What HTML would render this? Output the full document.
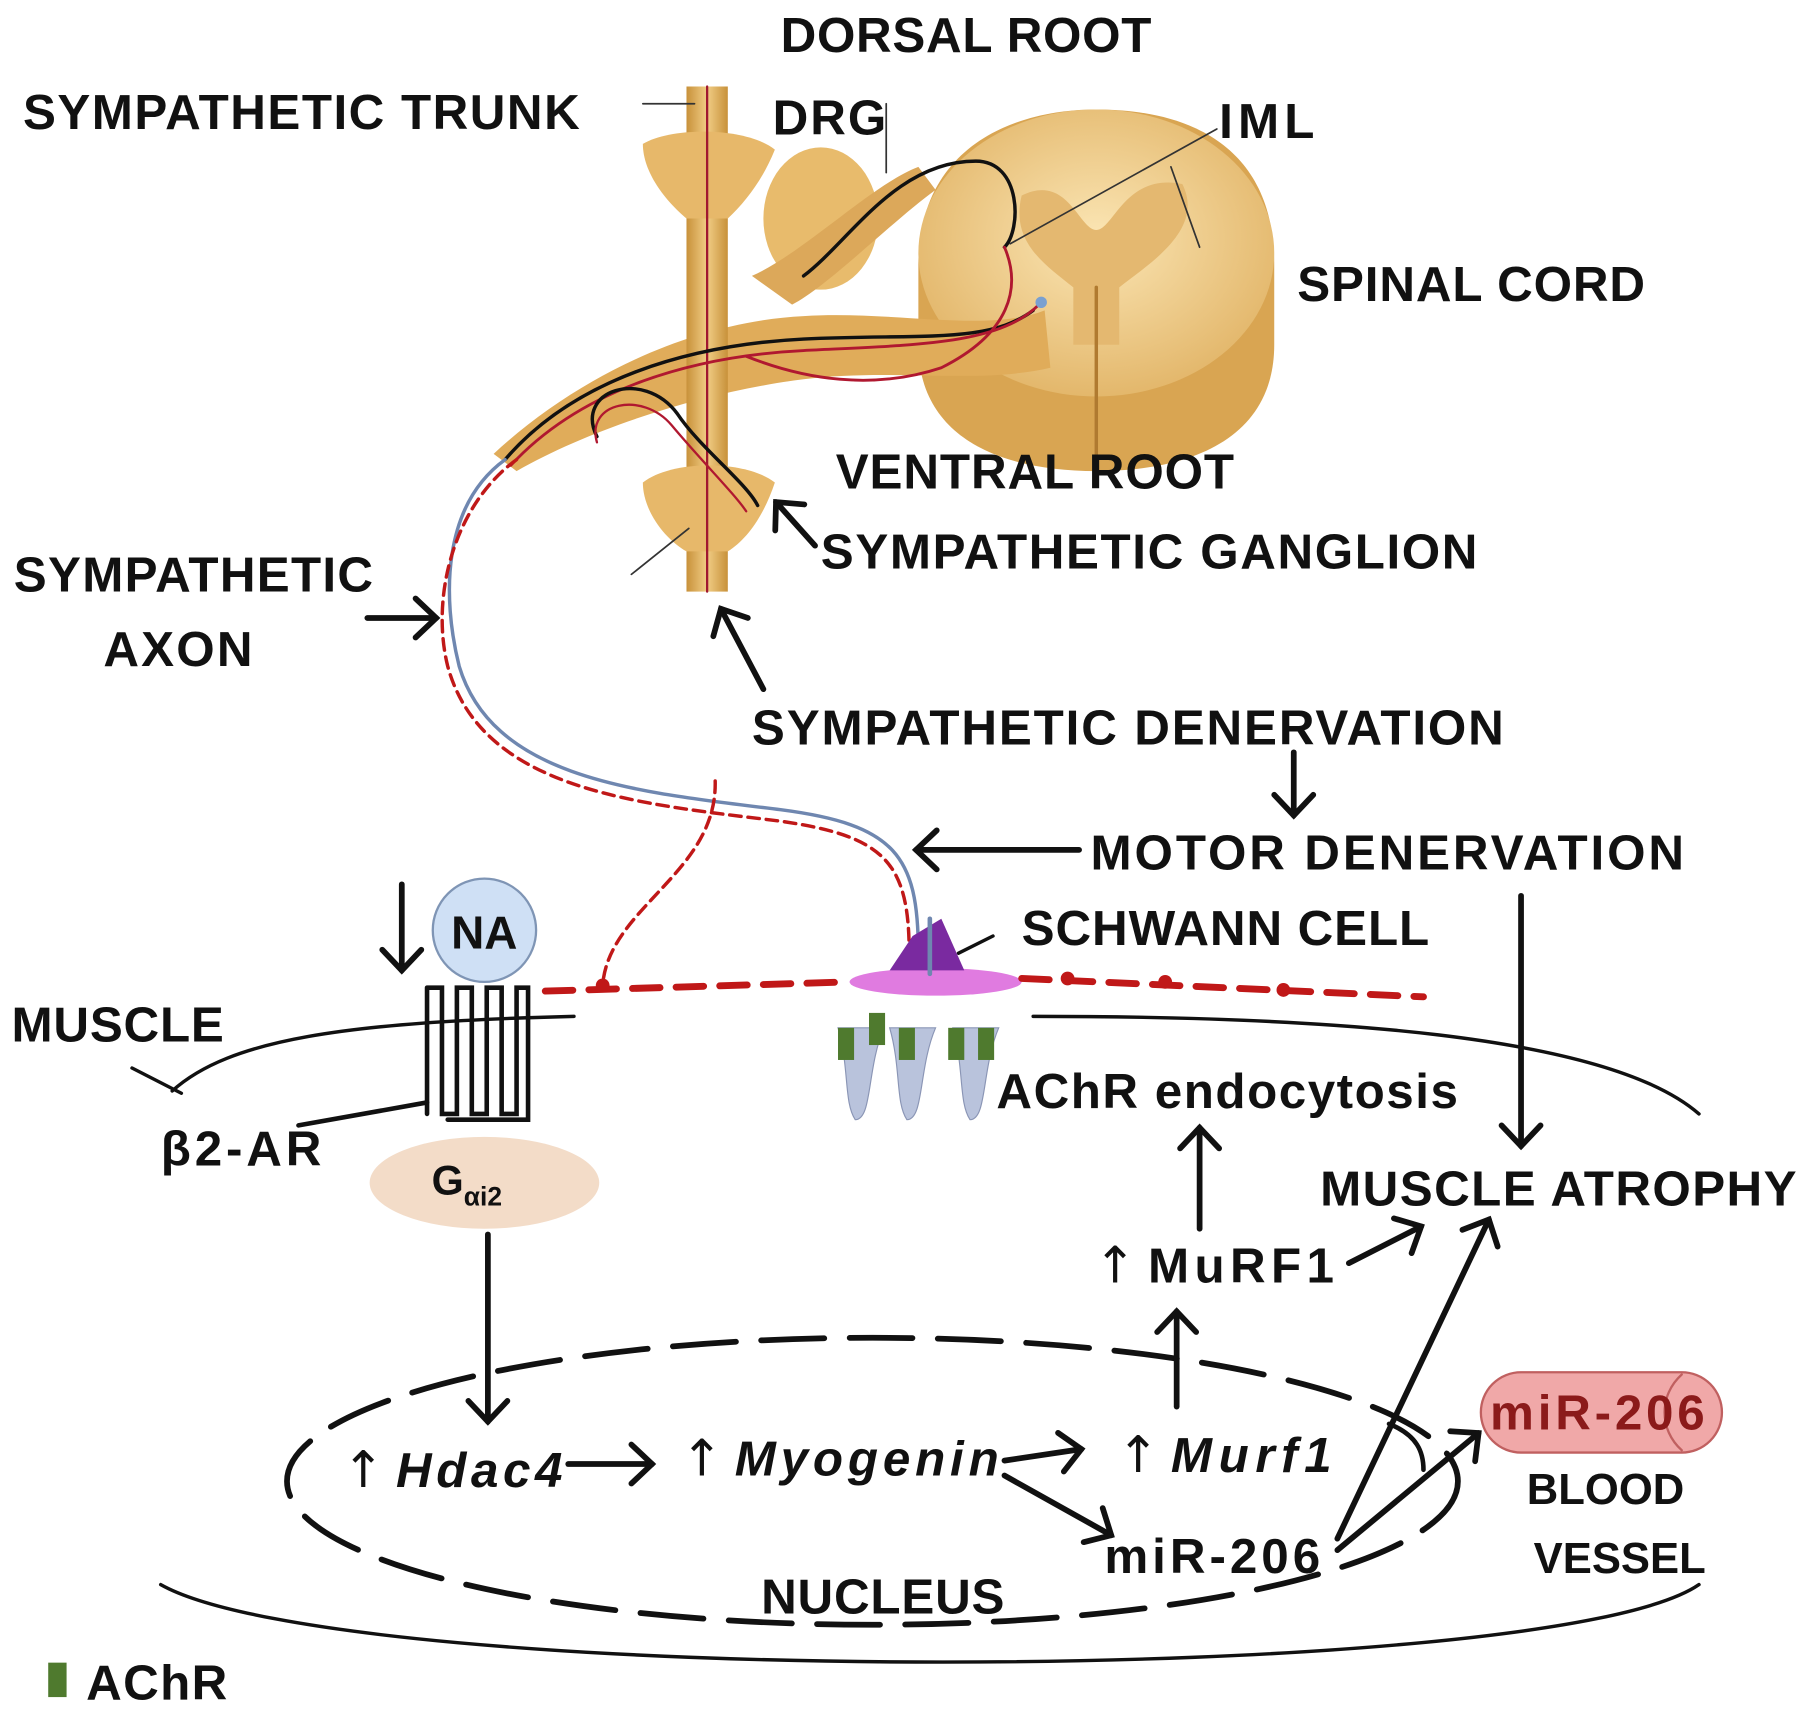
<!DOCTYPE html>
<html><head><meta charset="utf-8"><style>
html,body{margin:0;padding:0;background:#fff;}
svg{display:block;}
text{font-family:"Liberation Sans",sans-serif;font-weight:bold;fill:#111;}
text.up{font-family:"DejaVu Sans",sans-serif;font-weight:normal;font-style:normal;}
</style></head><body>
<svg width="1800" height="1717" viewBox="0 0 1568 1495" xmlns="http://www.w3.org/2000/svg">
<defs>
<marker id="a" viewBox="-24 -24 30 48" refX="0" refY="0" markerWidth="30" markerHeight="48" orient="auto" markerUnits="userSpaceOnUse">
<path d="M-18,-17 L0,0 L-18,17" fill="none" stroke="#111" stroke-width="5" stroke-linecap="round" stroke-linejoin="miter"/>
</marker>
<linearGradient id="g" x1="0" x2="1"><stop offset="0" stop-color="#c8913a"/><stop offset=".5" stop-color="#f1cd85"/><stop offset="1" stop-color="#c8913a"/></linearGradient>
<radialGradient id="sc" cx=".5" cy=".45" r=".6"><stop offset="0" stop-color="#fbe6b5"/><stop offset="1" stop-color="#e1b365"/></radialGradient>
</defs>
<g stroke-linecap="round">
<path d="M800,230 C800,130 880,95 955,95 C1040,95 1110,130 1110,230 L1110,300 C1110,380 1040,410 955,410 C870,410 800,380 800,300 Z" fill="#d9a552"/>
<ellipse cx="955" cy="220" rx="155" ry="125" fill="url(#sc)"/>
<path d="M890,170 C930,150 940,200 955,200 C970,200 980,150 1030,160 C1050,200 1000,230 975,250 L975,300 L935,300 L935,250 C910,230 880,210 890,170Z" fill="#e4b870"/>
<line x1="955" y1="250" x2="955" y2="400" stroke="#b07a30" stroke-width="3"/>
<path d="M430,395 C500,330 600,280 700,275 C780,270 860,290 910,270 L915,320 C850,335 780,320 700,330 C620,340 520,370 450,410Z" fill="#e0ac5a"/>
<ellipse cx="715" cy="190" rx="50" ry="62" fill="#e8bb6c"/>
<path d="M655,240 C700,220 760,160 800,145 L815,165 C780,190 720,250 690,265Z" fill="#dca85a"/>
<rect x="598" y="75" width="36" height="440" fill="url(#g)"/>
<path d="M560,125 C585,110 650,110 675,130 C665,155 650,175 634,190 L598,190 C580,175 560,150 560,125Z" fill="#e7b86a"/>
<path d="M560,420 C585,400 650,400 675,420 C665,450 650,470 634,480 L598,480 C580,470 560,445 560,420Z" fill="#e7b86a"/>
<line x1="616" y1="75" x2="616" y2="515" stroke="#a01830" stroke-width="2"/>
<path d="M440,400 C500,330 600,300 700,295 C800,290 860,300 900,270" fill="none" stroke="#111" stroke-width="3"/>
<path d="M445,405 C505,340 600,310 700,305 C800,300 870,300 905,265" fill="none" stroke="#b01830" stroke-width="2.5"/>
<path d="M700,240 C740,210 780,140 850,140 C890,140 890,200 875,215" fill="none" stroke="#111" stroke-width="3"/>
<path d="M875,215 C890,250 880,290 820,320 C760,340 700,330 650,310" fill="none" stroke="#b01830" stroke-width="2.5"/>
<path d="M520,380 C500,340 560,320 590,360 C610,390 650,420 660,440" fill="none" stroke="#111" stroke-width="3"/>
<path d="M520,385 C510,350 560,340 585,370 C610,400 640,430 650,445" fill="none" stroke="#b01830" stroke-width="2"/>
<circle cx="907" cy="263" r="5" fill="#7aa0d0"/>
<line x1="560" y1="90" x2="605" y2="90" stroke="#333" stroke-width="1.5"/>
<line x1="772" y1="90" x2="772" y2="150" stroke="#333" stroke-width="1.5"/>
<line x1="1060" y1="112" x2="880" y2="212" stroke="#333" stroke-width="1.5"/>
<line x1="1020" y1="145" x2="1045" y2="215" stroke="#333" stroke-width="1.5"/>
<line x1="550" y1="500" x2="600" y2="460" stroke="#333" stroke-width="1.5"/>
<path d="M440,400 C385,440 385,520 400,580 C430,680 560,690 680,705 C780,718 800,745 800,830" fill="none" stroke="#6f87b0" stroke-width="3"/>
<path d="M450,400 C395,440 375,520 390,580 C420,690 560,700 680,715 C770,728 792,750 792,830" fill="none" stroke="#c01818" stroke-width="3" stroke-dasharray="10,6"/>
<path d="M623,680 C625,760 530,790 525,858" fill="none" stroke="#c01818" stroke-width="3" stroke-dasharray="10,6"/>
<ellipse cx="815" cy="855" rx="75" ry="12" fill="#e07be0"/>
<path d="M775,845 L795,815 L820,800 L840,845Z" fill="#7a2aa0"/>
<line x1="810" y1="800" x2="810" y2="848" stroke="#6f87b0" stroke-width="4"/>
<line x1="865" y1="815" x2="835" y2="830" stroke="#111" stroke-width="3"/>
<path d="M475,863 L740,855 M890,852 L1240,868" fill="none" stroke="#c01818" stroke-width="6" stroke-dasharray="24,14"/>
<g fill="#c01818"><circle cx="525" cy="858" r="6"/><circle cx="930" cy="852" r="6"/><circle cx="1015" cy="855" r="6"/><circle cx="1118" cy="862" r="6"/></g>
<path d="M150,950 C200,905 300,890 500,885 M900,885 C1150,885 1400,900 1480,970" fill="none" stroke="#111" stroke-width="3"/>
<path d="M140,1380 C300,1470 1350,1470 1480,1380" fill="none" stroke="#111" stroke-width="3"/>
<line x1="115" y1="930" x2="158" y2="952" stroke="#111" stroke-width="3"/>
<g fill="#b9c3dc" stroke="#8a95b5" stroke-width="1">
<path d="M730,895 C740,930 735,960 745,975 C760,975 755,930 770,895Z"/>
<path d="M775,895 C785,930 780,960 790,975 C805,975 800,930 815,895Z"/>
<path d="M830,895 C840,930 835,960 845,975 C860,975 855,930 870,895Z"/>
</g>
<g fill="#4f7a2e"><rect x="730" y="895" width="14" height="28"/><rect x="757" y="882" width="14" height="28"/><rect x="783" y="895" width="14" height="28"/><rect x="826" y="895" width="14" height="28"/><rect x="852" y="895" width="14" height="28"/></g>
<path d="M372,860 L372,970 M372,860 L385,860 L385,970 L398,970 L398,860 L411,860 L411,970 L424,970 L424,860 L437,860 L437,970 L450,970 L450,860 L460,860 L460,975 L390,975" fill="none" stroke="#111" stroke-width="4"/>
<line x1="260" y1="980" x2="372" y2="960" stroke="#111" stroke-width="4"/>
<circle cx="422" cy="810" r="45" fill="#cfe0f5" stroke="#7f95b5" stroke-width="2"/>
<ellipse cx="422" cy="1030" rx="100" ry="40" fill="#f3dcc8"/>
<ellipse cx="760" cy="1290" rx="510" ry="125" fill="none" stroke="#111" stroke-width="5" stroke-dasharray="55,22"/>
<rect x="1290" y="1195" width="210" height="70" rx="35" fill="#f0a8a8" stroke="#c06060" stroke-width="2"/>
<path d="M1465,1197 C1445,1215 1445,1245 1465,1263" fill="none" stroke="#c06060" stroke-width="2"/>
<g stroke="#111" stroke-width="5" fill="none" marker-end="url(#a)">
<line x1="320" y1="538" x2="380" y2="538"/>
<line x1="710" y1="475" x2="676" y2="437"/>
<line x1="665" y1="600" x2="628" y2="530"/>
<line x1="1127" y1="655" x2="1127" y2="710"/>
<line x1="940" y1="740" x2="798" y2="740"/>
<line x1="1325" y1="780" x2="1325" y2="998"/>
<line x1="350" y1="770" x2="350" y2="845"/>
<line x1="425" y1="1075" x2="425" y2="1238"/>
<line x1="495" y1="1275" x2="568" y2="1275"/>
<line x1="875" y1="1272" x2="942" y2="1262"/>
<line x1="875" y1="1285" x2="968" y2="1337"/>
<line x1="1025" y1="1225" x2="1025" y2="1142"/>
<line x1="1045" y1="1070" x2="1045" y2="982"/>
<line x1="1175" y1="1100" x2="1238" y2="1068"/>
<line x1="1165" y1="1340" x2="1297" y2="1062"/>
<line x1="1165" y1="1350" x2="1288" y2="1248"/>
</g>
<path d="M1210,1240 C1235,1250 1240,1265 1240,1280" fill="none" stroke="#111" stroke-width="4"/>
<rect x="42" y="1448" width="16" height="30" fill="#4f7a2e"/>
</g>
<g font-size="43" lengthAdjust="spacingAndGlyphs">
<text x="680" y="45" textLength="323">DORSAL ROOT</text>
<text x="20" y="112" textLength="485">SYMPATHETIC TRUNK</text>
<text x="673" y="117" textLength="99">DRG</text>
<text x="1062" y="120" textLength="83">IML</text>
<text x="1130" y="262" textLength="303">SPINAL CORD</text>
<text x="728" y="425" textLength="347">VENTRAL ROOT</text>
<text x="715" y="495" textLength="572">SYMPATHETIC GANGLION</text>
<text x="12" y="515" textLength="313">SYMPATHETIC</text>
<text x="90" y="580" textLength="130">AXON</text>
<text x="655" y="648" textLength="655">SYMPATHETIC DENERVATION</text>
<text x="950" y="757" textLength="517">MOTOR DENERVATION</text>
<text x="890" y="823" textLength="355">SCHWANN CELL</text>
<text x="393" y="826" font-size="40">NA</text>
<text x="10" y="907" textLength="185">MUSCLE</text>
<text x="140" y="1015" textLength="140">β2-AR</text>
<text x="376" y="1040" font-size="36">G<tspan font-size="23" dy="10">αi2</tspan></text>
<text x="868" y="965" textLength="402">AChR endocytosis</text>
<text x="1150" y="1050" textLength="415">MUSCLE ATROPHY</text>
<text class="up" x="953" y="1117" font-size="44">↑</text>
<text x="1000" y="1117" textLength="162">MuRF1</text>
<text class="up" x="298" y="1295" font-size="44">↑</text>
<text x="345" y="1295" font-style="italic" textLength="145">Hdac4</text>
<text class="up" x="593" y="1285" font-size="44">↑</text>
<text x="640" y="1285" font-style="italic" textLength="230">Myogenin</text>
<text class="up" x="973" y="1282" font-size="44">↑</text>
<text x="1020" y="1282" font-style="italic" textLength="140">Murf1</text>
<text x="962" y="1370" textLength="188">miR-206</text>
<text x="663" y="1405" textLength="212">NUCLEUS</text>
<text x="1298" y="1245" textLength="187" style="fill:#8b1a1a">miR-206</text>
<text x="1330" y="1310" font-size="38">BLOOD</text>
<text x="1336" y="1370" font-size="38">VESSEL</text>
<text x="75" y="1480" textLength="123">AChR</text>
</g>
</svg>
</body></html>
